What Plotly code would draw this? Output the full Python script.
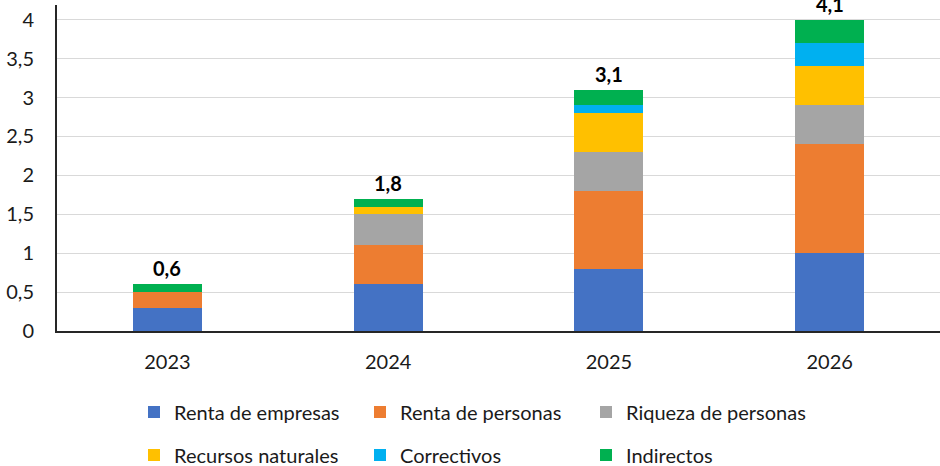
import plotly.graph_objects as go

years = ["2023", "2024", "2025", "2026"]
series_names = ["Renta de empresas", "Renta de personas", "Riqueza de personas",
                "Recursos naturales", "Correctivos", "Indirectos"]
renta_empresas = [0.3, 0.6, 0.8, 1.0]
renta_personas = [0.2, 0.5, 1.0, 1.4]
riqueza_personas = [0.0, 0.4, 0.5, 0.5]
recursos_naturales = [0.0, 0.1, 0.5, 0.5]
correctivos = [0.0, 0.0, 0.1, 0.3]
indirectos = [0.1, 0.1, 0.2, 0.3]
totals_label = ["0,6", "1,8", "3,1", "4,1"]
y_ticks = [0, 0.5, 1, 1.5, 2, 2.5, 3, 3.5, 4]

series_values = [renta_empresas, renta_personas, riqueza_personas,
                 recursos_naturales, correctivos, indirectos]
colors = ["#4472C4", "#ED7D31", "#A5A5A5", "#FFC000", "#00B0F0", "#00B050"]
legend_ids = ["legend", "legend", "legend", "legend2", "legend2", "legend2"]

FONT = "Lato"
fig = go.Figure()
for name, vals, col, lg in zip(series_names, series_values, colors, legend_ids):
    fig.add_trace(go.Bar(x=years, y=vals, name=name, marker=dict(color=col, line=dict(width=0)),
                         legend=lg))

stack_tops = [sum(v[i] for v in series_values) for i in range(len(years))]
for i, (top, lab) in enumerate(zip(stack_tops, totals_label)):
    fig.add_annotation(x=i, y=top, text=lab, showarrow=False, yanchor="bottom",
                       yshift=2, font=dict(family=FONT, size=20, color="#000000", weight="bold"))

legend_common = dict(orientation="h", xref="container", yref="container",
                     xanchor="left", yanchor="middle", entrywidth=181,
                     entrywidthmode="pixels", font=dict(family=FONT, size=20, color="#1a1a1a"),
                     bgcolor="rgba(0,0,0,0)", itemclick=False, traceorder="normal")
fig.update_layout(
    width=940, height=466,
    margin=dict(l=57, r=0, t=5, b=135),
    plot_bgcolor="white", paper_bgcolor="white",
    barmode="stack", bargap=0.687,
    separators=",.",
    showlegend=True,
    legend=dict(x=134 / 940, y=1 - 412 / 466, **legend_common),
    legend2=dict(x=134 / 940, y=1 - 455 / 466, **legend_common),
    font=dict(family=FONT, size=20, color="#1a1a1a"),
)
fig.update_xaxes(type="category", showline=True, linecolor="#262626", linewidth=2,
                 showgrid=False, ticks="", ticklabelstandoff=12,
                 tickfont=dict(family=FONT, size=20, color="#1a1a1a"))
fig.update_yaxes(range=[0, 4.19], tickvals=y_ticks, showline=True, linecolor="#262626",
                 linewidth=2, showgrid=True, gridcolor="#d9d9d9", gridwidth=1,
                 zeroline=False, ticks="", ticklabelstandoff=17,
                 tickfont=dict(family=FONT, size=20, color="#1a1a1a"))

fig.write_html("out.html", config={"displayModeBar": False},
               post_script="document.body.style.margin='0';")
